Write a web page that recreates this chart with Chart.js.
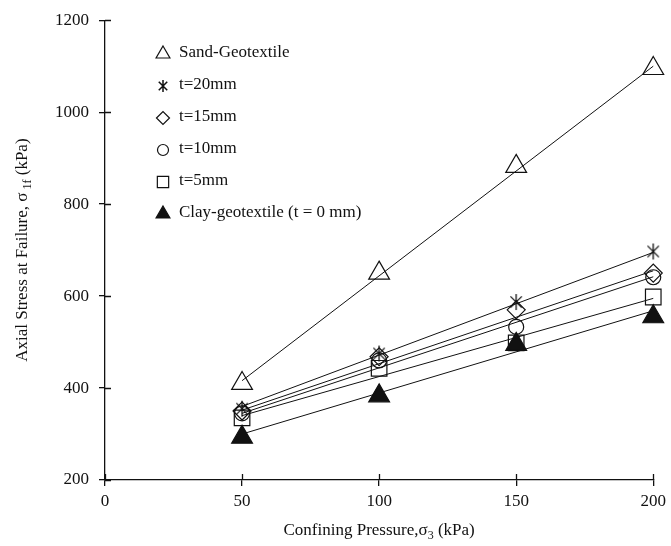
<!DOCTYPE html>
<html lang="en">
<head>
<meta charset="UTF-8">
<title>Axial stress at failure</title>
<script src="https://cdn.jsdelivr.net/npm/chart.js@4/dist/chart.umd.min.js"></script>
<style>
html, body { margin: 0; padding: 0; background: #fff; }
#chartBox { width: 671px; height: 546px; }
</style>
</head>
<body>
<div id="chartBox"><canvas id="chart"></canvas></div>
<script>
// confining pressure (kPa)
const xVals = [50, 100, 150, 200];
// axial stress at failure (kPa)
const sandGeo = [410, 650, 882, 1095];
const t20 = [355, 475, 587, 697];
const t15 = [350, 468, 570, 650];
const t10 = [345, 460, 533, 641];
const t5 = [335, 443, 498, 598];
const clayGeo = [293, 383, 495, 555];

// trend line end points (x = 50 and x = 200)
const fitX = [50, 200];
const sandFit = [416, 1100];
const t20Fit = [360, 695];
const t15Fit = [352, 655];
const t10Fit = [345, 642];
const t5Fit = [340, 595];
const clayFit = [300, 568];

const xTicks = [0, 50, 100, 150, 200];
const yTicks = [200, 400, 600, 800, 1000, 1200];

const labels = ['Sand-Geotextile', 't=20mm', 't=15mm', 't=10mm', 't=5mm', 'Clay-geotextile (t = 0 mm)'];

const serif = "'Liberation Serif', 'DejaVu Serif', serif";

// six armed asterisk marker
function makeStar(size, lw) {
	var c = document.createElement('canvas');
	c.width = size; c.height = size;
	var g = c.getContext('2d');
	var m = size / 2, r = size / 2 - 1;
	g.strokeStyle = '#111';
	g.lineWidth = lw;
	g.beginPath();
	var angles = [90, 45, -45];
	angles.forEach(function (d) {
		var a = d * Math.PI / 180;
		g.moveTo(m + r * Math.cos(a), m + r * Math.sin(a));
		g.lineTo(m - r * Math.cos(a), m - r * Math.sin(a));
	});
	g.stroke();
	return c;
}
const starBig = makeStar(18, 1.3);
const starSmall = makeStar(14, 1.5);

function pts(ys, xs) {
	return ys.map(function (y, i) { return {x: (xs || xVals)[i], y: y}; });
}

function fitSet(ys) {
	return {
		data: pts(ys, fitX), showLine: true, borderColor: '#111', borderWidth: 1,
		pointRadius: 0, fill: false, order: 2, isFit: true, clip: false
	};
}

function markSet(label, ys, style, radius, filled, legendStyle, legendRadius) {
	return {
		label: label, data: pts(ys), showLine: false, clip: false,
		pointStyle: style, pointRadius: radius, pointHoverRadius: radius,
		borderColor: '#111', borderWidth: 1.2,
		backgroundColor: filled ? '#111' : 'rgba(0,0,0,0)',
		order: 1, legendStyle: legendStyle || style, legendRadius: legendRadius
	};
}

const datasets = [
	fitSet(sandFit), fitSet(t20Fit), fitSet(t15Fit), fitSet(t10Fit), fitSet(t5Fit), fitSet(clayFit),
	markSet(labels[0], sandGeo, 'triangle', 12, false, 'triangle', 8),
	markSet(labels[1], t20, starBig, 9, false, starSmall, 7),
	markSet(labels[2], t15, 'rectRot', 9, false, 'rectRot', 6.5),
	markSet(labels[3], t10, 'circle', 7.5, false, 'circle', 5.5),
	markSet(labels[4], t5, 'rect', 11, false, 'rect', 8),
	markSet(labels[5], clayGeo, 'triangle', 12, true, 'triangle', 8)
];

// inner tick halves, legend and axis titles with subscripts
const decor = {
	id: 'decor',
	afterDraw: function (chart) {
		var ctx = chart.ctx, area = chart.chartArea;
		var sx = chart.scales.x, sy = chart.scales.y;
		ctx.save();
		ctx.strokeStyle = '#111';
		ctx.lineWidth = 1.3;
		ctx.beginPath();
		yTicks.forEach(function (v) {
			var p = Math.round(sy.getPixelForValue(v)) + 0.5;
			ctx.moveTo(area.left, p); ctx.lineTo(area.left + 6, p);
		});
		xTicks.forEach(function (v) {
			var p = Math.round(sx.getPixelForValue(v)) + 0.5;
			ctx.moveTo(p, area.bottom); ctx.lineTo(p, area.bottom - 6);
		});
		ctx.stroke();

		// legend
		ctx.fillStyle = '#111';
		ctx.font = '17px ' + serif;
		ctx.textBaseline = 'middle';
		chart.data.datasets.forEach(function (ds) {
			if (ds.isFit) return;
			var i = labels.indexOf(ds.label);
			var y = 53 + i * 32;
			ctx.save();
			ctx.strokeStyle = '#111';
			ctx.fillStyle = ds.backgroundColor;
			ctx.lineWidth = 1.2;
			Chart.helpers.drawPoint(ctx, {pointStyle: ds.legendStyle, radius: ds.legendRadius, rotation: 0, borderWidth: 1.2}, 163, y + 1);
			ctx.restore();
			ctx.fillStyle = '#111';
			ctx.textAlign = 'left';
			ctx.fillText(ds.label, 179, y);
		});

		// axis titles
		function richText(parts, x, y) {
			var w = 0;
			parts.forEach(function (p) {
				ctx.font = (p.sub ? '12px ' : '17px ') + serif;
				w += ctx.measureText(p.t).width;
			});
			var cx = x - w / 2;
			parts.forEach(function (p) {
				ctx.font = (p.sub ? '12px ' : '17px ') + serif;
				ctx.fillText(p.t, cx, y + (p.sub ? 5 : 0));
				cx += ctx.measureText(p.t).width;
			});
		}
		ctx.textAlign = 'left';
		ctx.textBaseline = 'middle';
		richText([{t: 'Confining Pressure,\u03c3'}, {t: '3', sub: true}, {t: ' (kPa)'}], (area.left + area.right) / 2, 531);
		ctx.save();
		ctx.translate(23, (area.top + area.bottom) / 2);
		ctx.rotate(-Math.PI / 2);
		richText([{t: 'Axial Stress at Failure, \u03c3'}, {t: ' 1f', sub: true}, {t: ' (kPa)'}], 0, 0);
		ctx.restore();
		ctx.restore();
	}
};

function plain(v) { return String(v); }

new Chart(document.getElementById('chart'), {
	type: 'scatter',
	data: {datasets: datasets},
	options: {
		responsive: true,
		maintainAspectRatio: false,
		animation: false,
		events: [],
		layout: {padding: {top: 20, right: 17, left: 0, bottom: 0}},
		plugins: {legend: {display: false}, tooltip: {enabled: false}},
		scales: {
			x: {
				type: 'linear', min: 0, max: 200,
				afterBuildTicks: function (s) { s.ticks = xTicks.map(function (v) { return {value: v}; }); },
				afterFit: function (s) { s.height = 66; },
				border: {color: '#111', width: 1.3},
				grid: {drawOnChartArea: false, color: '#111', lineWidth: 1.3, tickLength: 6},
				ticks: {color: '#111', padding: 5, maxRotation: 0, callback: plain, font: {family: serif, size: 17}}
			},
			y: {
				type: 'linear', min: 200, max: 1200,
				afterBuildTicks: function (s) { s.ticks = yTicks.map(function (v) { return {value: v}; }); },
				afterFit: function (s) { s.width = 105; },
				border: {color: '#111', width: 1.3},
				grid: {drawOnChartArea: false, color: '#111', lineWidth: 1.3, tickLength: 6},
				ticks: {color: '#111', padding: 10, callback: plain, font: {family: serif, size: 17}}
			}
		}
	},
	plugins: [decor]
});
</script>
</body>
</html>
